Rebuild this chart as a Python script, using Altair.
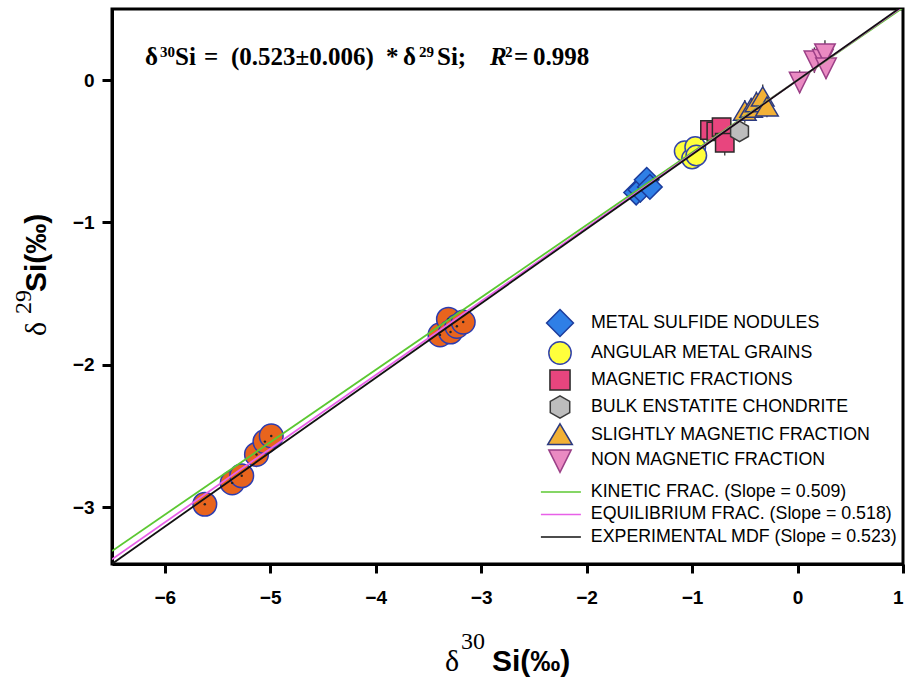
import altair as alt
import pandas as pd

# ---------------- data ----------------
X_DOMAIN = [-6.5, 1.0]
Y_DOMAIN = [-3.4, 0.5]
x_ticks = [-6, -5, -4, -3, -2, -1, 0, 1]
y_ticks = [-3, -2, -1, 0]

group_names = ["METAL SULFIDE NODULES", "ANGULAR METAL GRAINS", "MAGNETIC FRACTIONS",
               "BULK ENSTATITE CHONDRITE", "SLIGHTLY MAGNETIC FRACTION", "NON MAGNETIC FRACTION"]

sulfide_d30 = [-1.53, -1.49, -1.43, -1.40]
sulfide_d29 = [-0.79, -0.77, -0.70, -0.75]
sulfide_e29 = [0.05, 0.09, 0.05, 0.05]

grains_d30 = [-1.07, -1.00, -0.97, -0.96]
grains_d29 = [-0.50, -0.55, -0.47, -0.53]
grains_e29 = [0.05, 0.06, 0.05, 0.05]

magnetic_d30 = [-0.83, -0.77, -0.72, -0.69]
magnetic_d29 = [-0.35, -0.36, -0.33, -0.44]
magnetic_e29 = [0.06, 0.06, 0.05, 0.09]

bulk_d30 = [-0.55]
bulk_d29 = [-0.36]
bulk_e29 = [0.04]

slightly_d30 = [-0.50, -0.44, -0.39, -0.33, -0.29]
slightly_d29 = [-0.22, -0.20, -0.16, -0.12, -0.19]
slightly_e29 = [0.08, 0.07, 0.08, 0.09, 0.07]

non_d30 = [0.02, 0.16, 0.24, 0.26, 0.27]
non_d29 = [-0.01, 0.14, 0.15, 0.19, 0.09]
non_e29 = [0.08, 0.09, 0.08, 0.09, 0.08]

# synthetic (no legend entry) orange circles
synth_d30 = [-5.62, -5.36, -5.27, -5.13, -5.05, -4.99, -3.39, -3.31, -3.29, -3.23, -3.17]
synth_d29 = [-2.98, -2.83, -2.78, -2.63, -2.54, -2.50, -1.79, -1.68, -1.77, -1.73, -1.70]
synth_e30 = [0.04, 0.04, 0.04, 0.11, 0.04, 0.04, 0.10, 0.10, 0.10, 0.10, 0.10]
synth_e29 = [0.04, 0.04, 0.04, 0.09, 0.04, 0.04, 0.08, 0.08, 0.08, 0.08, 0.08]

line_names = ["KINETIC FRAC. (Slope = 0.509)", "EQUILIBRIUM FRAC. (Slope = 0.518)",
              "EXPERIMENTAL MDF (Slope = 0.523)"]
line_slopes = [0.509, 0.518, 0.523]

# ---------------- styles ----------------
fills = ["#2f7fe6", "#ffff3c", "#e8457e", "#bdbdbd", "#f2b136", "#ea8ac2"]
strokes = ["#1c3c9c", "#3344aa", "#2b2b2b", "#3a3a3a", "#2b3a80", "#9b3f86"]
shapes = [
    "M0,-1.2L1.2,0L0,1.2L-1.2,0Z",
    "circle",
    "M-0.9,-0.9L0.9,-0.9L0.9,0.9L-0.9,0.9Z",
    "M0,-1L0.87,-0.5L0.87,0.5L0,1L-0.87,0.5L-0.87,-0.5Z",
    "M0,-1L1.1,0.85L-1.1,0.85Z",
    "M-1,-0.9L1,-0.9L0,1.1Z",
]
line_colors = ["#5cc832", "#e860e8", "#111111"]

# ---------------- tables ----------------
group_data = [
    (sulfide_d30, sulfide_d29, sulfide_e29),
    (grains_d30, grains_d29, grains_e29),
    (magnetic_d30, magnetic_d29, magnetic_e29),
    (bulk_d30, bulk_d29, bulk_e29),
    (slightly_d30, slightly_d29, slightly_e29),
    (non_d30, non_d29, non_e29),
]
rows = []
for name, (xs_, ys_, es_) in zip(group_names, group_data):
    for xv, yv, ev in zip(xs_, ys_, es_):
        rows.append({"group": name, "d30": xv, "d29": yv, "lo": yv - ev, "hi": yv + ev})
pts = pd.DataFrame(rows)

syn = pd.DataFrame({"d30": synth_d30, "d29": synth_d29})
syn["xlo"] = [a - b for a, b in zip(synth_d30, synth_e30)]
syn["xhi"] = [a + b for a, b in zip(synth_d30, synth_e30)]
syn["ylo"] = [a - b for a, b in zip(synth_d29, synth_e29)]
syn["yhi"] = [a + b for a, b in zip(synth_d29, synth_e29)]

line_rows = []
for name, s in zip(line_names, line_slopes):
    for xv in X_DOMAIN:
        line_rows.append({"line": name, "d30": xv, "d29": s * xv})
lines = pd.DataFrame(line_rows)

xs = alt.Scale(domain=X_DOMAIN, nice=False, zero=False)
ys = alt.Scale(domain=Y_DOMAIN, nice=False, zero=False)
xax = alt.Axis(values=x_ticks, title=None, grid=False)
yax = alt.Axis(values=y_ticks, title=None, grid=False)

X = alt.X("d30:Q", scale=xs, axis=xax)
Y = alt.Y("d29:Q", scale=ys, axis=yax)

# error bars
syn_h = alt.Chart(syn).mark_rule(color="#8b2e2e", strokeWidth=1.3).encode(
    x=alt.X("xlo:Q", scale=xs, axis=xax), x2="xhi:Q", y=alt.Y("d29:Q", scale=ys, axis=yax))
syn_v = alt.Chart(syn).mark_rule(color="#8b2e2e", strokeWidth=1.3).encode(
    x=X, y=alt.Y("ylo:Q", scale=ys, axis=yax), y2="yhi:Q")
syn_pts = alt.Chart(syn).mark_point(filled=True, shape="circle", size=560, opacity=1,
                                    fill="#e8641d", stroke="#2b3cb0", strokeWidth=1.5).encode(x=X, y=Y)
syn_dot = alt.Chart(syn).mark_point(filled=True, shape="circle", size=6, opacity=1,
                                    color="#222222").encode(x=X, y=Y)

pt_err = alt.Chart(pts).mark_rule(color="#333333", strokeWidth=1.3).encode(
    x=X, y=alt.Y("lo:Q", scale=ys, axis=yax), y2="hi:Q")

LEG_FS = 17.8
pt_legend = alt.Legend(title=None, orient="none", legendX=436, legendY=302,
                       symbolSize=500, symbolStrokeWidth=1.5, symbolOpacity=1,
                       labelFontSize=LEG_FS, labelFont="Liberation Sans", labelColor="black",
                       labelLimit=0, labelOffset=19, rowPadding=-2.0, padding=0)
gpts = alt.Chart(pts).mark_point(filled=True, size=420, opacity=1, strokeWidth=1.5).encode(
    x=X, y=Y,
    shape=alt.Shape("group:N", scale=alt.Scale(domain=group_names, range=shapes), legend=pt_legend),
    fill=alt.Fill("group:N", scale=alt.Scale(domain=group_names, range=fills), legend=pt_legend),
    stroke=alt.Stroke("group:N", scale=alt.Scale(domain=group_names, range=strokes), legend=pt_legend),
)

ln_legend = alt.Legend(title=None, orient="none", legendX=440, legendY=474,
                       symbolType="M-4,0L4,0", symbolSize=100, symbolStrokeWidth=1.5,
                       labelFontSize=LEG_FS, labelFont="Liberation Sans", labelColor="black",
                       labelLimit=0, labelOffset=21, rowPadding=3.5, padding=0)
lns = alt.Chart(lines).mark_line(clip=True, strokeWidth=1.8).encode(
    x=X, y=Y,
    color=alt.Color("line:N", scale=alt.Scale(domain=line_names, range=line_colors), legend=ln_legend),
    order=alt.Order("d30:Q"),
)


def txt(s, x, y, size, font="Liberation Serif", weight="normal", style="normal", angle=0):
    return alt.Chart(alt.Data(values=[{}])).mark_text(
        text=s, fontSize=size, font=font, fontWeight=weight, fontStyle=style,
        angle=angle, align="left", baseline="alphabetic", color="black"
    ).encode(x=alt.value(x), y=alt.value(y))


# equation (plot-area coordinates)
EQ = 25
SUP = 15
eq = [
    txt("δ", 33, 56, EQ, weight="bold"),
    txt("30", 48, 48, SUP, weight="bold"),
    txt("Si", 63, 56, EQ, weight="bold"),
    txt("=", 92, 56, EQ, weight="bold"),
    txt("(0.523±0.006)", 119, 56, EQ, weight="bold"),
    txt("*", 274, 56, EQ, weight="bold"),
    txt("δ", 291, 56, EQ, weight="bold"),
    txt("29", 307, 48, SUP, weight="bold"),
    txt("Si;", 325, 56, EQ, weight="bold"),
    txt("R", 378, 56, EQ, weight="bold", style="italic"),
    txt("2", 393, 48, SUP, weight="bold"),
    txt("=", 402, 56, EQ, weight="bold"),
    txt("0.998", 421, 56, EQ, weight="bold"),
]

# axis titles
xt = [
    txt("δ", 333, 662, 30),
    txt("30", 349, 640, 24),
    txt("Si(‰)", 380, 662, 30, font="Liberation Sans", weight="bold"),
]
yt = [
    txt("δ", -66, 327, 30, angle=270),
    txt("29", -81, 305, 24, angle=270),
    txt("Si(‰)", -66, 283, 30, font="Liberation Sans", weight="bold", angle=270),
]

chart = alt.layer(
    pt_err, syn_h, syn_v, syn_pts, syn_dot, gpts, lns, *eq, *xt, *yt
).resolve_scale(
    x="shared", y="shared"
).properties(
    width=791, height=555,
    padding={"left": 112, "top": 9, "right": 5, "bottom": 119},
    autosize=alt.AutoSizeParams(type="none"),
).configure_view(
    stroke="black", strokeWidth=3
).configure_axis(
    domainColor="black", domainWidth=3, tickColor="black", tickWidth=3,
    labelFont="Liberation Sans", labelFontWeight="bold", labelFontSize=19, labelColor="black",
    grid=False,
).configure_axisX(
    tickSize=9, labelPadding=15
).configure_axisY(
    tickSize=10, labelPadding=8
)

chart.save("out.html", embed_options={"renderer": "svg", "actions": False})
